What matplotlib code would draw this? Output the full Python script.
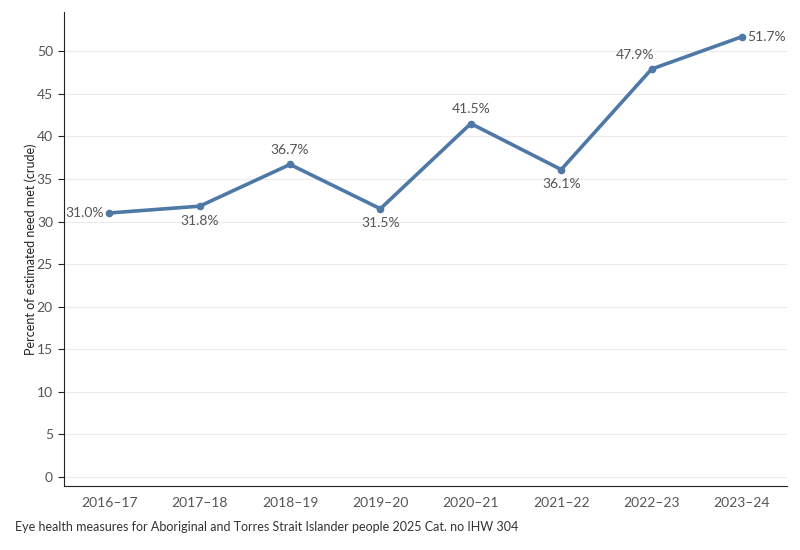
import matplotlib.pyplot as plt

years = ["2016–17", "2017–18", "2018–19", "2019–20", "2020–21", "2021–22", "2022–23", "2023–24"]
values = [31.0, 31.8, 36.7, 31.5, 41.5, 36.1, 47.9, 51.7]
# where each label sits relative to its point
label_pos = ["left", "below", "above", "below", "above", "below", "aboveleft", "right"]

plt.rcParams["font.family"] = ["Lato", "DejaVu Sans"]

fig = plt.figure(figsize=(8, 5.5), dpi=100)
ax = fig.add_axes([0.08, 0.1164, 0.904, 0.8618])

x = list(range(len(years)))
ax.plot(x, values, color="#4e79a7", lw=2.6, marker="o", ms=4.5, zorder=3)

offsets = {
    "left": ((-4, 0), "right", "center"),
    "right": ((4, 0), "left", "center"),
    "above": ((0, 6), "center", "bottom"),
    "below": ((0, -6), "center", "top"),
    "aboveleft": ((-12, 6), "center", "bottom"),
}
for xi, v, p in zip(x, values, label_pos):
    off, ha, va = offsets[p]
    ax.annotate(f"{v:.1f}%", (xi, v), xytext=off, textcoords="offset points",
                ha=ha, va=va, fontsize=10, color="#555555")

ax.set_xlim(-0.5, 7.5)
ax.set_ylim(-1.05, 54.6)
ax.set_yticks(range(0, 51, 5))
ax.set_xticks(x)
ax.set_xticklabels(years)
ax.grid(axis="y", color="#ebebeb", lw=0.8)
ax.set_axisbelow(True)
for s in ["top", "right"]:
    ax.spines[s].set_visible(False)
ax.spines["left"].set_color("#222222")
ax.spines["bottom"].set_color("#222222")
ax.tick_params(axis="y", length=4, color="#222222", labelsize=10, labelcolor="#555555", pad=4)
ax.tick_params(axis="x", length=0, labelsize=10, labelcolor="#555555", pad=8)
ax.set_ylabel("Percent of estimated need met (crude)", fontsize=9, color="#222222", labelpad=0)

fig.text(0.019, 0.042, "Eye health measures for Aboriginal and Torres Strait Islander people 2025 Cat. no IHW 304",
         fontsize=9, color="#333333", va="center")

fig.savefig("out.png", dpi=100)
